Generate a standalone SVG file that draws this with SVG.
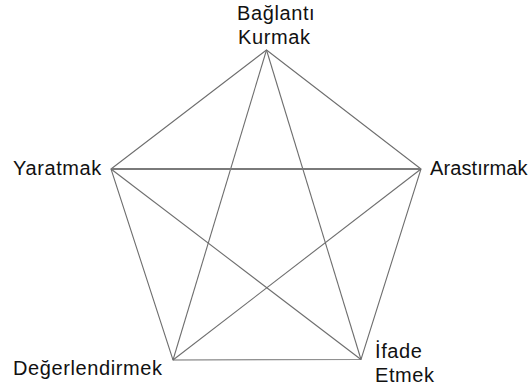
<svg xmlns="http://www.w3.org/2000/svg" width="530" height="389" viewBox="0 0 530 389">
<style>
text{font-family:"Liberation Sans",Arial,sans-serif;font-size:20px;fill:#111;letter-spacing:0.6px}
.e{stroke:#6e6e6e;stroke-width:1.1;fill:none}
.h{stroke:#7a7a7a;stroke-width:2;fill:none}
</style>
<rect width="530" height="389" fill="#fff"/>
<g id="connectors">
<polygon class="e" points="266.5,50 421,169 361,359.5 173,360 111,169"/>
<line class="e" x1="266.5" y1="50" x2="361" y2="359.5"/>
<line class="e" x1="266.5" y1="50" x2="173" y2="360"/>
<line class="h" x1="111" y1="169" x2="421" y2="169"/>
<line class="e" x1="111" y1="169" x2="361" y2="359.5"/>
<line class="e" x1="421" y1="169" x2="173" y2="360"/>
</g>
<g id="node-baglanti"><text x="237" y="20">Bağlantı</text><text x="238" y="44">Kurmak</text></g>
<g id="node-arastirmak"><text x="430" y="175" style="letter-spacing:0.1px">Arastırmak</text></g>
<g id="node-ifade"><text x="375" y="358">İfade</text><text x="375" y="382">Etmek</text></g>
<g id="node-degerlendirmek"><text x="13" y="375">Değerlendirmek</text></g>
<g id="node-yaratmak"><text x="13" y="175">Yaratmak</text></g>
</svg>
